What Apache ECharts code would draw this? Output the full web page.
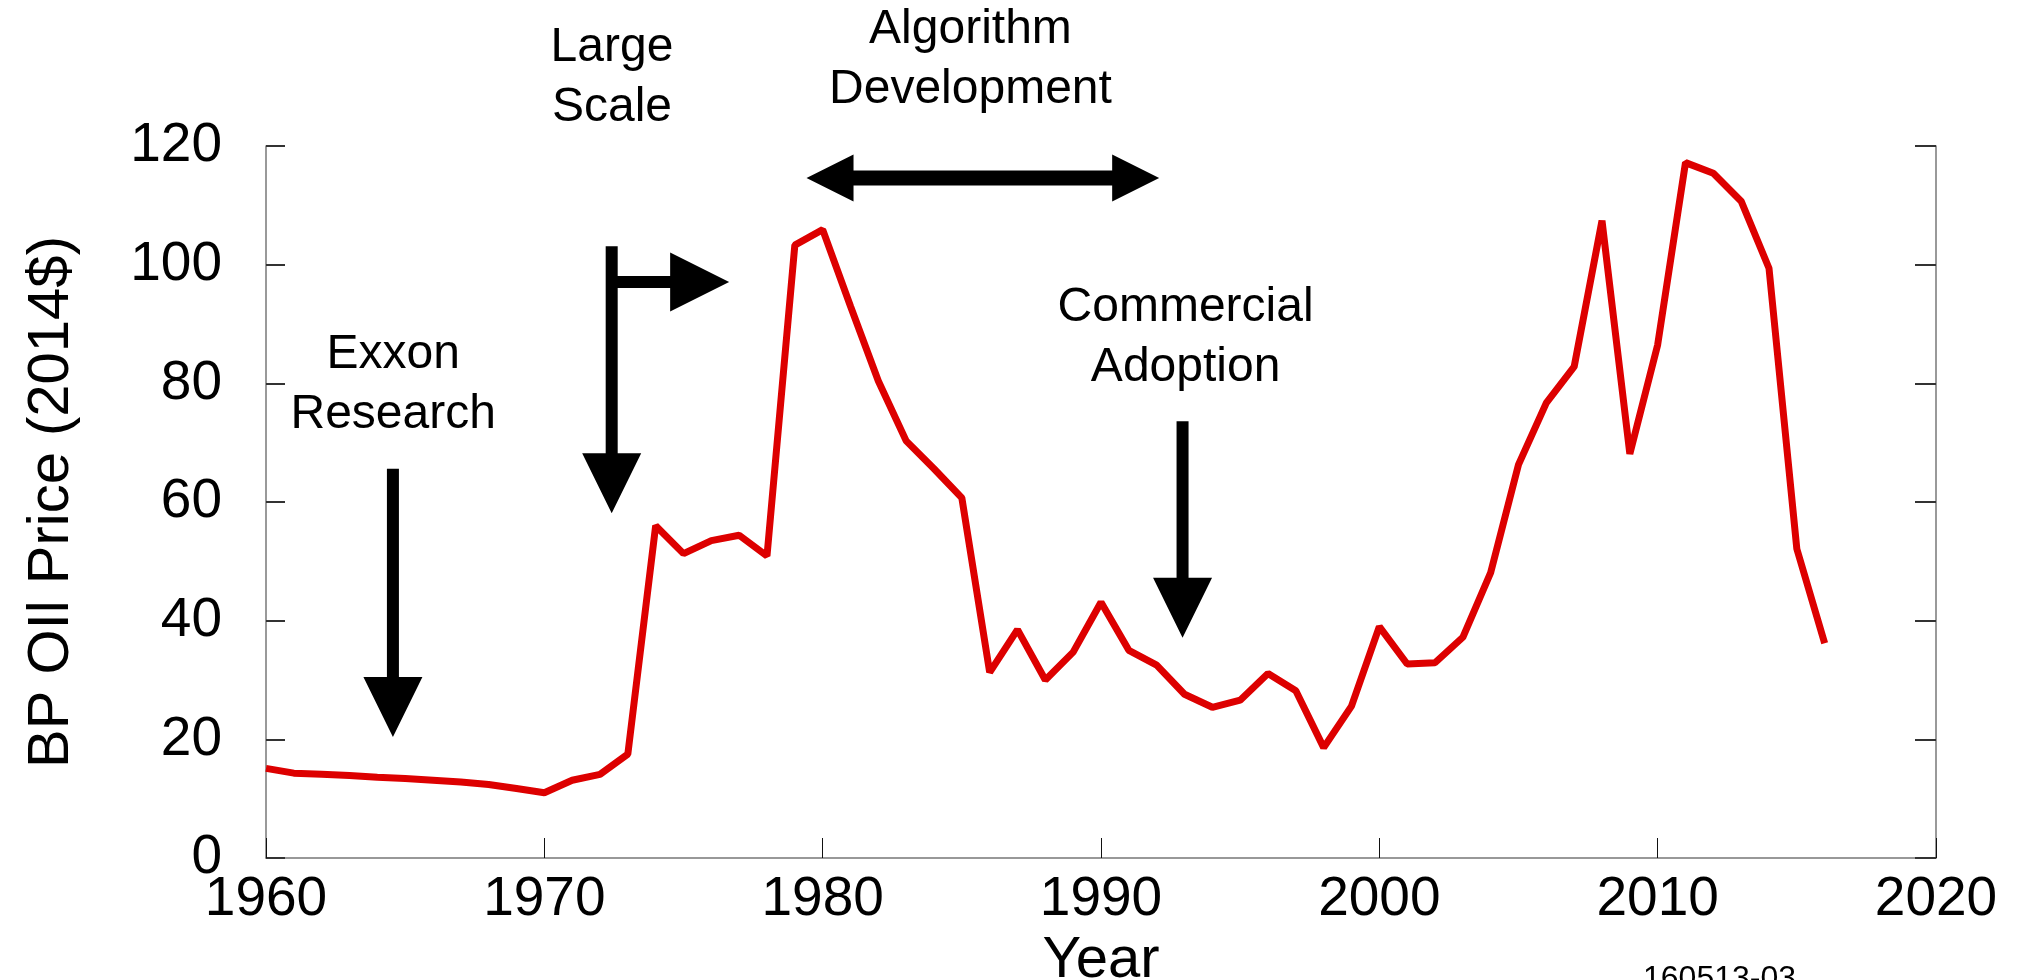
<!DOCTYPE html>
<html>
<head>
<meta charset="utf-8">
<script src="https://cdn.jsdelivr.net/npm/echarts@6/dist/echarts.min.js"></script>
<style>
  html, body { margin: 0; padding: 0; background: #fff; overflow: hidden; }
  #chart { width: 2020px; height: 980px; }
</style>
</head>
<body>
<div id="chart"></div>
<script>
// ---- Data ----
const years = [1960,1961,1962,1963,1964,1965,1966,1967,1968,1969,
               1970,1971,1972,1973,1974,1975,1976,1977,1978,1979,
               1980,1981,1982,1983,1984,1985,1986,1987,1988,1989,
               1990,1991,1992,1993,1994,1995,1996,1997,1998,1999,
               2000,2001,2002,2003,2004,2005,2006,2007,2008,2009,
               2010,2011,2012,2013,2014,2015,2016];
const prices = [15.1,14.3,14.1,13.9,13.6,13.4,13.1,12.8,12.4,11.7,
                11.0,13.1,14.1,17.5,56.0,51.3,53.5,54.4,50.9,103.3,
                105.9,93.0,80.4,70.3,65.6,60.7,31.3,38.5,30.0,34.7,
                43.1,35.0,32.5,27.6,25.4,26.6,31.1,28.2,18.6,25.6,
                39.0,32.7,32.9,37.2,48.1,66.3,76.7,82.8,107.4,68.1,
                86.5,117.2,115.4,110.7,99.4,52.1,36.2];
const xTickLabels = ['1960','1970','1980','1990','2000','2010','2020'];
const yTickLabels = ['0','20','40','60','80','100','120'];
const xAxisTitle = 'Year';
const yAxisTitle = 'BP OIl Price (2014$)';
const footnote = '160513-03';
// annotation texts with anchor (year, value)
const noteTexts = ['Exxon\nResearch', 'Large\nScale', 'Algorithm\nDevelopment', 'Commercial\nAdoption'];
const noteAnchors = [[1964.57, 79.8], [1972.43, 131.5], [1985.31, 134.5], [1993.04, 87.7]];
// arrows: [tailYear, tailValue, tipYear, tipValue]
const downArrows = [[1964.56, 65.6, 1964.56, 20.4],
                    [1972.42, 103.1, 1972.42, 58.1],
                    [1992.93, 73.6, 1992.93, 37.1]];
const rightArrow = [1972.42, 97.06, 1976.64, 97.06];
const doubleArrow = [1979.42, 114.6, 1992.09, 114.6];

const FONT = '"Liberation Sans", Arial, Helvetica, sans-serif';

const chart = echarts.init(document.getElementById('chart'), null, { renderer: 'canvas' });

const axisLineStyle = { color: '#777', width: 1.5 };

const option = {
  animation: false,
  backgroundColor: '#fff',
  grid: { left: 266, right: 84, top: 146, bottom: 122, containLabel: false, outerBoundsMode: 'none' },
  xAxis: {
    type: 'value', min: 1960, max: 2020, interval: 10,
    name: xAxisTitle, nameLocation: 'middle', nameGap: 66,
    nameTextStyle: { fontSize: 58, fontFamily: FONT, color: '#000' },
    axisLine: { show: true, lineStyle: axisLineStyle },
    axisTick: { show: true, inside: true, length: 20, lineStyle: { color: '#111', width: 1 } },
    axisLabel: { fontSize: 55, fontFamily: FONT, color: '#000', margin: 14,
                 formatter: v => xTickLabels[Math.round((v - 1960) / 10)] },
    splitLine: { show: false }
  },
  yAxis: [{
    type: 'value', min: 0, max: 120, interval: 20, position: 'left',
    name: yAxisTitle, nameLocation: 'middle', nameRotate: 90, nameGap: 185,
    nameTextStyle: { fontSize: 58, fontFamily: FONT, color: '#000' },
    axisLine: { show: true, lineStyle: axisLineStyle },
    axisTick: { show: true, inside: true, length: 19, lineStyle: { color: '#333', width: 2 } },
    axisLabel: { fontSize: 55, fontFamily: FONT, color: '#000', margin: 44,
                 formatter: v => yTickLabels[Math.round(v / 20)] },
    splitLine: { show: false }
  }, {
    type: 'value', min: 0, max: 120, interval: 20, position: 'right',
    axisLine: { show: true, onZero: false, lineStyle: axisLineStyle },
    axisTick: { show: true, inside: true, length: 21, lineStyle: { color: '#333', width: 2 } },
    axisLabel: { show: false },
    splitLine: { show: false }
  }],
  series: [{
    type: 'line',
    data: years.map((y, i) => [y, prices[i]]),
    showSymbol: false, symbol: 'none',
    lineStyle: { color: '#DD0000', width: 7, cap: 'butt', join: 'bevel' },
    z: 3
  }]
};
chart.setOption(option);

// ---- Annotations (positioned through the axes) ----
function px(x, y) { return chart.convertToPixel({ seriesIndex: 0 }, [x, y]); }
function arrowPoly(p0, p1, sw, hw, hl) {
  const dx = p1[0] - p0[0], dy = p1[1] - p0[1];
  const L = Math.hypot(dx, dy); const d = [dx / L, dy / L]; const n = [-d[1], d[0]];
  const b = [p1[0] - d[0] * hl, p1[1] - d[1] * hl];
  const off = (p, k) => [p[0] + n[0] * k, p[1] + n[1] * k];
  return [off(p0, sw / 2), off(b, sw / 2), off(b, hw / 2), p1, off(b, -hw / 2), off(b, -sw / 2), off(p0, -sw / 2)];
}
function doublePoly(pL, pR, sw, hw, hl) {
  const y = pL[1];
  const bl = pL[0] + hl, br = pR[0] - hl;
  return [pL, [bl, y - hw / 2], [bl, y - sw / 2], [br, y - sw / 2], [br, y - hw / 2], pR,
          [br, y + hw / 2], [br, y + sw / 2], [bl, y + sw / 2], [bl, y + hw / 2]];
}
const graphics = [];
noteTexts.forEach((t, i) => {
  const p = px(noteAnchors[i][0], noteAnchors[i][1]);
  graphics.push({ type: 'text', x: p[0], y: p[1], z: 10,
    style: { text: t, fill: '#000', fontSize: 48, fontFamily: FONT,
             align: 'center', verticalAlign: 'middle', lineHeight: 60 } });
});
downArrows.forEach(a => {
  graphics.push({ type: 'polygon', z: 10,
    shape: { points: arrowPoly(px(a[0], a[1]), px(a[2], a[3]), 12, 59, 60) },
    style: { fill: '#000' } });
});
{
  const p0 = px(rightArrow[0], rightArrow[1]), p1 = px(rightArrow[2], rightArrow[3]);
  graphics.push({ type: 'polygon', z: 10, shape: { points: arrowPoly(p0, p1, 12, 59, 59) }, style: { fill: '#000' } });
}
{
  const pL = px(doubleArrow[0], doubleArrow[1]), pR = px(doubleArrow[2], doubleArrow[3]);
  graphics.push({ type: 'polygon', z: 10, shape: { points: doublePoly(pL, pR, 15, 47, 47) }, style: { fill: '#000' } });
}
graphics.push({ type: 'text', left: 1643, top: 963, z: 10,
  style: { text: footnote, fill: '#000', fontSize: 32, fontFamily: FONT } });
chart.setOption({ graphic: graphics });
</script>
</body>
</html>
